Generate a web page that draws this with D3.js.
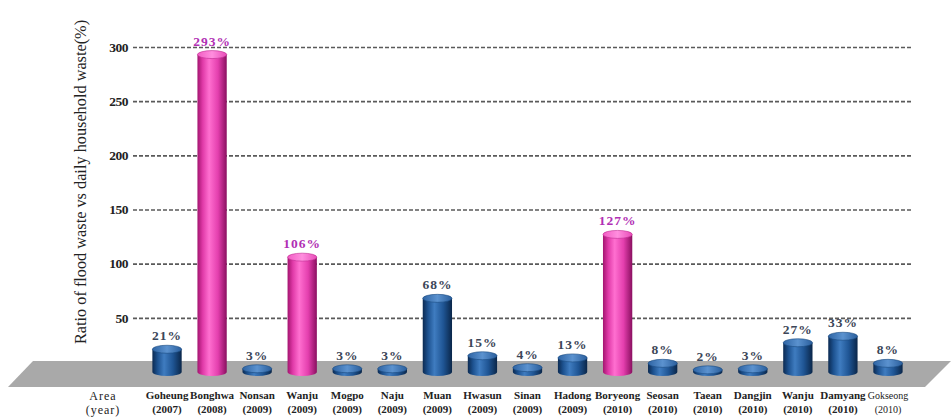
<!DOCTYPE html>
<html>
<head>
<meta charset="utf-8">
<script src="https://cdn.jsdelivr.net/npm/d3@7/dist/d3.min.js"></script>
<style>
  html, body { margin: 0; padding: 0; background: #ffffff; }
  svg { display: block; }
</style>
</head>
<body>
<svg id="chart" width="951" height="417"></svg>
<script>
// ---------- data ----------
const areas = ["Goheung","Bonghwa","Nonsan","Wanju","Mogpo","Naju","Muan","Hwasun","Sinan","Hadong","Boryeong","Seosan","Taean","Dangjin","Wanju","Damyang","Gokseong"];
const years = ["2007","2008","2009","2009","2009","2009","2009","2009","2009","2009","2010","2010","2010","2010","2010","2010","2010"];
const ratios = [21, 293, 3, 106, 3, 3, 68, 15, 4, 13, 127, 8, 2, 3, 27, 33, 8];
const highlight = [false, true, false, true, false, false, false, false, false, false, true, false, false, false, false, false, false];
const yTicks = [50, 100, 150, 200, 250, 300];
const yTitle = "Ratio of flood waste vs daily household waste(%)";

// ---------- layout ----------
const W = 951, H = 417;
const svg = d3.select("#chart");
const plotLeft = 133, plotRight = 912;
const x = d3.scaleBand()
  .domain(d3.range(areas.length))
  .range([144.5, 910.5])
  .paddingInner(0.35)
  .paddingOuter(0.175);
const y = d3.scaleLinear().domain([0, 300]).range([372, 47]);

const serif = "'Liberation Serif','DejaVu Serif','Times New Roman',serif";

// gradients
const defs = svg.append("defs");
function cylGrad(id, stops) {
  const g = defs.append("linearGradient").attr("id", id)
    .attr("x1", "0%").attr("x2", "100%").attr("y1", "0%").attr("y2", "0%");
  stops.forEach(s => g.append("stop").attr("offset", s[0]).attr("stop-color", s[1]));
}
cylGrad("gPink", [["0%", "#a3146f"], ["18%", "#e03aa8"], ["40%", "#ff6fd0"], ["70%", "#e43fae"], ["100%", "#8a0f60"]]);
cylGrad("gBlue", [["0%", "#0b2a52"], ["18%", "#1d5290"], ["40%", "#3f7cc0"], ["70%", "#1f5594"], ["100%", "#0a2649"]]);
cylGrad("gPinkTop", [["0%", "#f25cc4"], ["50%", "#ff8ede"], ["100%", "#e84cb8"]]);
cylGrad("gBlueTop", [["0%", "#2e64a4"], ["50%", "#5b92cf"], ["100%", "#2a5e9c"]]);

// ---------- gridlines + y axis ----------
const yAxis = d3.axisLeft(y)
  .tickValues(yTicks)
  .tickSize(-(plotRight - plotLeft))
  .tickPadding(5)
  .tickFormat(d3.format("d"));
const gy = svg.append("g").attr("transform", `translate(${plotLeft},0)`).call(yAxis);
gy.select(".domain").remove();
gy.selectAll(".tick line")
  .attr("stroke", "#5a5a5a")
  .attr("stroke-width", 1.6)
  .attr("stroke-dasharray", "4,2");
gy.selectAll(".tick text")
  .attr("fill", "#222")
  .style("font-family", serif)
  .style("font-weight", "bold")
  .style("font-size", "13.5px")
  .style("letter-spacing", "-0.5px");

// y title
svg.append("text")
  .attr("transform", `translate(86,182) rotate(-90)`)
  .attr("text-anchor", "middle")
  .attr("fill", "#222")
  .style("font-family", serif)
  .style("font-size", "16.3px")
  .text(yTitle);

// ---------- floor ----------
const floorTop = y(0) - 11, floorBot = y(0) + 15;
const floorPts = [[33, floorTop], [W, floorTop], [W - (floorBot - floorTop), floorBot], [8, floorBot]];
svg.append("polygon")
  .attr("points", floorPts.map(p => p.join(",")).join(" "))
  .attr("fill", "#a9a9a9");

// ---------- bars (cylinders) ----------
const ry = 4;
const bars = svg.append("g").selectAll("g.bar")
  .data(ratios.map((v, i) => ({ v, i, hi: highlight[i] })))
  .join("g").attr("class", "bar");

bars.append("path")
  .attr("d", d => {
    const x0 = x(d.i), x1 = x(d.i) + x.bandwidth();
    const rx = x.bandwidth() / 2;
    const yt = y(d.v), yb = y(0);
    return `M${x0},${yt} L${x0},${yb} A${rx},${ry} 0 0 0 ${x1},${yb} L${x1},${yt} Z`;
  })
  .attr("fill", d => d.hi ? "url(#gPink)" : "url(#gBlue)");

bars.append("ellipse")
  .attr("cx", d => x(d.i) + x.bandwidth() / 2)
  .attr("cy", d => y(d.v))
  .attr("rx", x.bandwidth() / 2)
  .attr("ry", ry)
  .attr("fill", d => d.hi ? "url(#gPinkTop)" : "url(#gBlueTop)")
  .attr("stroke", d => d.hi ? "#c02a90" : "#1a4a80")
  .attr("stroke-width", 0.6);

// value labels
bars.append("text")
  .attr("x", d => x(d.i) + x.bandwidth() / 2)
  .attr("y", d => y(d.v) - 9)
  .attr("text-anchor", "middle")
  .attr("fill", d => d.hi ? "#b12fb4" : "#3c4658")
  .style("font-family", serif)
  .style("font-weight", "bold")
  .style("font-size", "13.5px")
  .style("letter-spacing", "1px")
  .text(d => d.v + "%");

// ---------- category labels ----------
const xl = svg.append("g");
areas.forEach((a, i) => {
  const cx = x(i) + x.bandwidth() / 2;
  const last = i === areas.length - 1;
  const t = xl.append("text")
    .attr("text-anchor", "middle")
    .attr("fill", "#222")
    .style("font-family", serif)
    .style("font-weight", last ? "normal" : "bold")
    .style("font-size", last ? "10px" : "11px");
  t.append("tspan").attr("x", cx).attr("y", 399).text(a);
  t.append("tspan").attr("x", cx).attr("y", 413).text("(" + years[i] + ")");
});

// Area (year)
const ay = svg.append("text")
  .attr("text-anchor", "middle")
  .attr("fill", "#222")
  .style("font-family", serif)
  .style("font-size", "12px")
  .style("letter-spacing", "1px");
ay.append("tspan").attr("x", 103).attr("y", 400).text("Area");
ay.append("tspan").attr("x", 103).attr("y", 414).text("(year)");
</script>
</body>
</html>
